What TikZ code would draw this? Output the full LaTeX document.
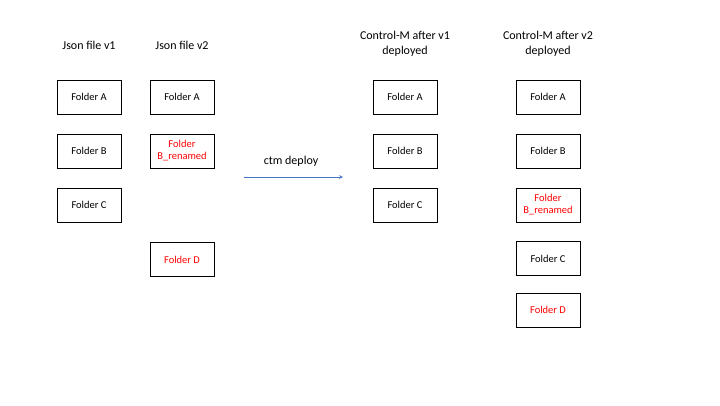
\documentclass[tikz,border=0pt]{standalone}
\usepackage{fontspec}
\setmainfont{Carlito}
\usetikzlibrary{arrows, positioning}

\definecolor{deployblue}{HTML}{4472C4}
\definecolor{newred}{HTML}{FF0000}

\tikzset{
  folder/.style={draw, line width=0.75pt, minimum width=64pt, minimum height=34pt,
    inner sep=0pt, outer sep=0pt, align=center, font=\fontsize{10.5}{12}\selectfont},
  changed/.style={folder, text=newred},
  head/.style={align=center, font=\fontsize{12}{14.5}\selectfont}
}

\begin{document}
\begin{tikzpicture}[>=stealth, x=1pt, y=-1pt]
\useasboundingbox (0,0) rectangle (720,405);
%
\node[head] (h1) at (89,45) {Json file v1};
\node[folder] (v1a) at (89,97) {Folder A};
\node[folder, below=20pt of v1a] (v1b) {Folder B};
\node[folder, below=20pt of v1b] (v1c) {Folder C};
%
\node[head] (h2) at (182,45) {Json file v2};
\node[folder] (v2a) at (182,97) {Folder A};
\node[changed, below=20pt of v2a] (v2b) {Folder\\B\_renamed};
\node[changed, below=74.5pt of v2b] (v2d) {Folder D};
%
\coordinate (arrow start) at (244,177);
\coordinate (arrow end) at (343,177);
\draw[->, deployblue, line width=0.75pt] (arrow start) -- (arrow end);
\node[head] (deploy) at (291,161) {ctm deploy};
%
\node[head] (h3) at (405,44) {Control-M after v1\\deployed};
\node[folder] (m1a) at (405,97) {Folder A};
\node[folder, below=20pt of m1a] (m1b) {Folder B};
\node[folder, below=20pt of m1b] (m1c) {Folder C};
%
\node[head] (h4) at (548,44) {Control-M after v2\\deployed};
\node[folder] (m2a) at (548,97) {Folder A};
\node[folder, below=20pt of m2a] (m2b) {Folder B};
\node[changed, below=20pt of m2b] (m2r) {Folder\\B\_renamed};
\node[folder, below=19.5pt of m2r] (m2c) {Folder C};
\node[changed, below=17.5pt of m2c] (m2d) {Folder D};
\end{tikzpicture}
\end{document}
